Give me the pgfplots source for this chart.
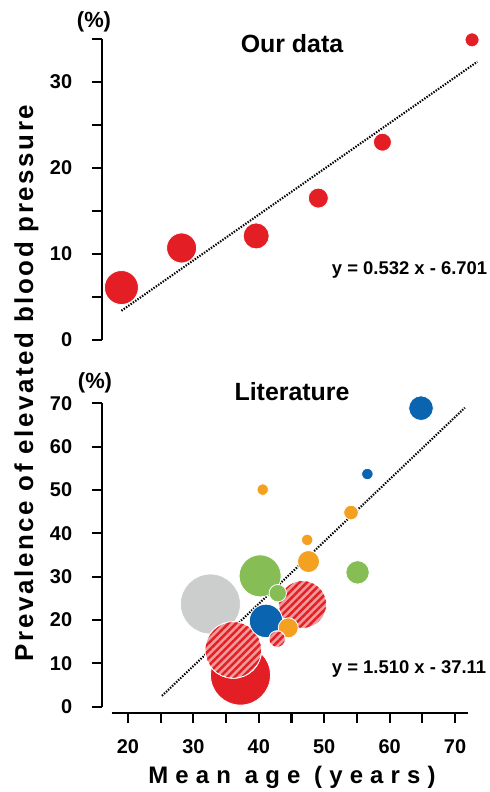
\documentclass[border=0pt]{standalone}
\usepackage{fontspec}
\setmainfont{Liberation Sans}
\usepackage{pgfplots}
\pgfplotsset{compat=1.18}
\usetikzlibrary{patterns.meta}
\definecolor{cred}{HTML}{E31E24}
\definecolor{cpink}{HTML}{F29A9A}
\definecolor{cblue}{HTML}{0A64B0}
\definecolor{corange}{HTML}{F4A021}
\definecolor{cgreen}{HTML}{86BD55}
\definecolor{cgrey}{HTML}{CCCDCD}
\newcommand{\tlfont}{\bfseries\fontsize{20}{20}\selectfont}
\begin{document}
\begin{tikzpicture}
\path[use as bounding box] (0,0) rectangle (490bp,792bp);
\pgfplotsset{
 mystyle/.style={scale only axis, width=379.4bp, xmin=16, xmax=74, clip=false,
   axis lines*=left, axis line style={draw=none}, tick align=outside,
   major tick length=10bp, tick style={black,line width=2.2bp},
   yticklabel style={font=\tlfont, anchor=east, inner sep=0pt, xshift=-19.5bp},
   xticklabel style={font=\tlfont, anchor=north, inner sep=0pt, yshift=-16bp},
   /pgf/number format/assume math mode=true, anchor=south west},
 bub/.style 2 args={only marks, mark=*, mark size=#2bp,
   mark options={fill=#1, draw=white, line width=0.8bp}},
 hat/.style={only marks, mark=*, mark size=#1bp,
   mark options={pattern={Lines[angle=45,distance=5.3bp,line width=2.5bp]},
   pattern color=cred, draw=white, line width=0.8bp}},
 trend/.style={black, line width=2.1bp, dash pattern=on 1.4bp off 1.4bp},
}
% ---------- top panel ----------
\begin{axis}[mystyle, at={(101.8bp,452bp)}, height=301bp,
  ymin=0, ymax=35, xtick=\empty,
  ytick={0,5,...,35}, yticklabels={0,,10,,20,,30,}]
\addplot[trend] coordinates {(19.0,3.4) (73.4,32.35)};
\addplot[bub={cred}{17}] coordinates {(19.0,6.1)};
\addplot[bub={cred}{15}] coordinates {(28.2,10.7)};
\addplot[bub={cred}{13}] coordinates {(39.6,12.1)};
\addplot[bub={cred}{10}] coordinates {(49.1,16.5)};
\addplot[bub={cred}{9}] coordinates {(58.9,23.0)};
\addplot[bub={cred}{7}] coordinates {(72.6,34.9)};
\draw[line width=2.2bp] (axis cs:16,0) -- (axis cs:16,35);
\end{axis}
% ---------- bottom panel ----------
\begin{axis}[mystyle, at={(101.8bp,78.8bp)}, height=309.8bp,
  ymin=-1.5, ymax=70,
  ytick={0,10,...,70},
  xtick={20,25,...,70}, xticklabels={20,,30,,40,,50,,60,,70}]
\addplot[trend] coordinates {(25.2,2.5) (71.5,69.0)};
\addplot[bub={cgrey}{30}] coordinates {(32.6,23.7)};
\addplot[bub={cred}{30}] coordinates {(37.2,7.3)};
\addplot[bub={cpink}{28.3}] coordinates {(36.1,13.1)};
\addplot[hat={28.3}] coordinates {(36.1,13.1)};
\addplot[bub={cpink}{24}] coordinates {(46.7,23.6)};
\addplot[hat={24}] coordinates {(46.7,23.6)};
\addplot[bub={cgreen}{21}] coordinates {(40.2,30.2)};
\addplot[bub={cblue}{16.7}] coordinates {(41.1,19.8)};
\addplot[bub={cblue}{12.3}] coordinates {(64.8,68.9)};
\addplot[bub={cgreen}{11.7}] coordinates {(55.1,31.0)};
\addplot[bub={corange}{11}] coordinates {(47.6,33.5)};
\addplot[bub={corange}{10}] coordinates {(44.5,18.2)};
\addplot[bub={cgreen}{8.7}] coordinates {(42.9,26.2)};
\addplot[bub={cpink}{8.3}] coordinates {(42.8,15.6)};
\addplot[hat={8.3}] coordinates {(42.8,15.6)};
\addplot[bub={corange}{7.3}] coordinates {(54.1,44.8)};
\addplot[bub={cblue}{5.7}] coordinates {(56.6,53.7)};
\addplot[bub={corange}{5.7}] coordinates {(40.6,50.1)};
\addplot[bub={corange}{5.7}] coordinates {(47.4,38.5)};
\draw[line width=2.2bp] (axis cs:16,0) -- (axis cs:16,70);
\draw[line width=2.2bp] (axis cs:17.5,-1.5) -- (axis cs:72,-1.5);
\end{axis}
% ---------- texts ----------
\node[font=\bfseries\fontsize{22}{22}\selectfont] at (94bp,770bp) {(\%)};
\node[font=\bfseries\fontsize{22}{22}\selectfont] at (95bp,409bp) {(\%)};
\node[font=\bfseries\fontsize{25}{25}\selectfont, anchor=base] at (292bp,739bp) {Our data};
\node[font=\bfseries\fontsize{25}{25}\selectfont, anchor=base] at (292bp,391.3bp) {Literature};
\node[font=\bfseries\fontsize{18.5}{18.5}\selectfont, anchor=base west, inner sep=0pt] at (331.7bp,517bp) {y = 0.532 x - 6.701};
\node[font=\bfseries\fontsize{18.5}{18.5}\selectfont, anchor=base west, inner sep=0pt] at (331.7bp,118.7bp) {y = 1.510 x - 37.11};
\node[font=\bfseries\fontsize{26}{26}\selectfont\addfontfeature{LetterSpace=10}, rotate=90, anchor=base, inner sep=0pt] at (33bp,409bp) {Prevalence of elevated blood pressure};
\node[font=\bfseries\fontsize{24}{24}\selectfont\addfontfeature{LetterSpace=30}, anchor=base, inner sep=0pt] at (292bp,9bp) {Mean age (years)};
\end{tikzpicture}
\end{document}
